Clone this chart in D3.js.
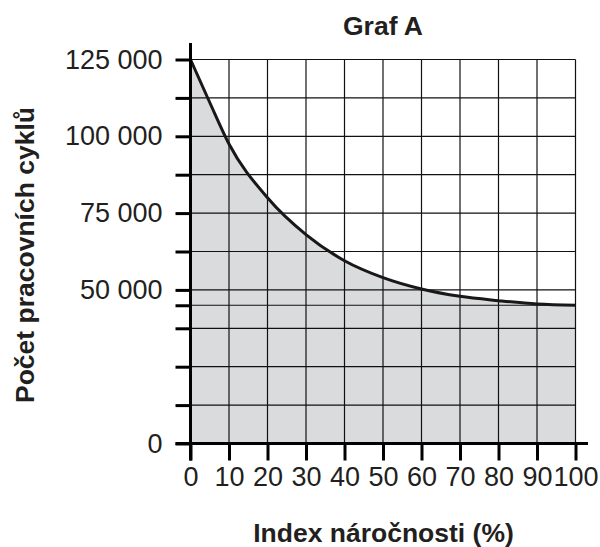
<!DOCTYPE html>
<html>
<head>
<meta charset="utf-8">
<script src="https://cdnjs.cloudflare.com/ajax/libs/d3/7.8.5/d3.min.js"></script>
<style>
	body { margin: 0; background: #fff; }
	text { font-family: "Liberation Sans", Arial, Helvetica, sans-serif; fill: #231f20; }
</style>
</head>
<body>
<div id="chartDiv"></div>
<script>
// curve values (index % -> cycles)
var indexValues = [0, 5, 10, 20, 30, 40, 50, 60, 70, 80, 90, 100];
var cycleValues = [125000, 111000, 97500, 80000, 68000, 59500, 54000, 50300, 47900, 46500, 45400, 45000];

// axis ticks
var xTicks = [0, 10, 20, 30, 40, 50, 60, 70, 80, 90, 100];
var yTicks = [0, 12500, 25000, 37500, 45000, 50000, 62500, 75000, 87500, 100000, 112500, 125000];
var yLabelled = [0, 50000, 75000, 100000, 125000];

var title = "Graf A";
var xTitle = "Index náročnosti (%)";
var yTitle = "Počet pracovních cyklů";

function drawChart(elem) {
	elem.innerHTML = "";

	var W = 600, H = 547;
	var margin = {top: 59.5, right: 24.5, bottom: 103.5, left: 190.5},
	    width = W - margin.left - margin.right,
	    height = H - margin.top - margin.bottom;

	var x = d3.scaleLinear().domain([0, 100]).range([0, width]);
	var y = d3.scaleLinear().domain([0, 125000]).range([height, 0]);

	var data = indexValues.map(function(d, i) { return {x: d, y: cycleValues[i]}; });

	var svg = d3.select(elem).append("svg")
		.attr("width", W)
		.attr("height", H)
		.append("g")
		.attr("transform", "translate(" + margin.left + "," + margin.top + ")");

	// grey area under the curve
	var area = d3.area()
		.x(function(d) { return x(d.x); })
		.y0(y(0))
		.y1(function(d) { return y(d.y); })
		.curve(d3.curveMonotoneX);

	svg.append("path")
		.datum(data)
		.attr("d", area)
		.attr("fill", "#dadbdd");

	// grid
	svg.append("g").selectAll("line")
		.data(yTicks.filter(function(d) { return d > 0; }))
		.enter().append("line")
		.attr("x1", 0).attr("x2", width)
		.attr("y1", function(d) { return y(d); })
		.attr("y2", function(d) { return y(d); })
		.attr("stroke", "#111")
		.attr("stroke-width", 1.2);

	svg.append("g").selectAll("line")
		.data(xTicks.filter(function(d) { return d > 0; }))
		.enter().append("line")
		.attr("y1", 0).attr("y2", height)
		.attr("x1", function(d) { return x(d); })
		.attr("x2", function(d) { return x(d); })
		.attr("stroke", "#111")
		.attr("stroke-width", 1.2);

	// the curve
	var line = d3.line()
		.x(function(d) { return x(d.x); })
		.y(function(d) { return y(d.y); })
		.curve(d3.curveMonotoneX);

	svg.append("path")
		.datum(data)
		.attr("d", line)
		.attr("fill", "none")
		.attr("stroke", "#1a1718")
		.attr("stroke-width", 3);

	// number format with space as thousands separator
	var fmt = d3.formatLocale({decimal: ",", thousands: " ", grouping: [3], currency: ["", ""]}).format(",d");

	svg.append("g")
		.attr("class", "axis axis--y")
		.call(d3.axisLeft(y)
			.tickValues(yTicks)
			.tickSize(15)
			.tickPadding(13)
			.tickFormat(function(d) { return yLabelled.indexOf(d) >= 0 ? fmt(d) : ""; }));

	svg.append("g")
		.attr("class", "axis axis--x")
		.attr("transform", "translate(0," + height + ")")
		.call(d3.axisBottom(x)
			.tickValues(xTicks)
			.tickSize(17)
			.tickPadding(6));

	svg.selectAll(".axis .domain").remove();
	svg.selectAll(".axis line").attr("stroke", "#000").attr("stroke-width", 3);
	svg.selectAll(".axis text")
		.style("font-size", "27px")
		.attr("fill", "#231f20");

	// thick axis lines
	svg.append("line")
		.attr("x1", 0).attr("x2", 0)
		.attr("y1", -16.5).attr("y2", height + 17)
		.attr("stroke", "#000").attr("stroke-width", 3);
	svg.append("line")
		.attr("x1", -15).attr("x2", width + 12.5)
		.attr("y1", height).attr("y2", height)
		.attr("stroke", "#000").attr("stroke-width", 3);

	// titles
	svg.append("text")
		.attr("x", 383 - margin.left)
		.attr("y", 35 - margin.top)
		.attr("text-anchor", "middle")
		.style("font-size", "26.5px")
		.attr("font-weight", "bold")
		.text(title);

	svg.append("text")
		.attr("x", 383.5 - margin.left)
		.attr("y", 542 - margin.top)
		.attr("text-anchor", "middle")
		.style("font-size", "26.5px")
		.attr("font-weight", "bold")
		.text(xTitle);

	svg.append("text")
		.attr("transform", "translate(" + (34 - margin.left) + "," + (255 - margin.top) + ") rotate(-90)")
		.attr("text-anchor", "middle")
		.style("font-size", "26.5px")
		.attr("font-weight", "bold")
		.text(yTitle);
}

drawChart(document.getElementById("chartDiv"));
</script>
</body>
</html>
